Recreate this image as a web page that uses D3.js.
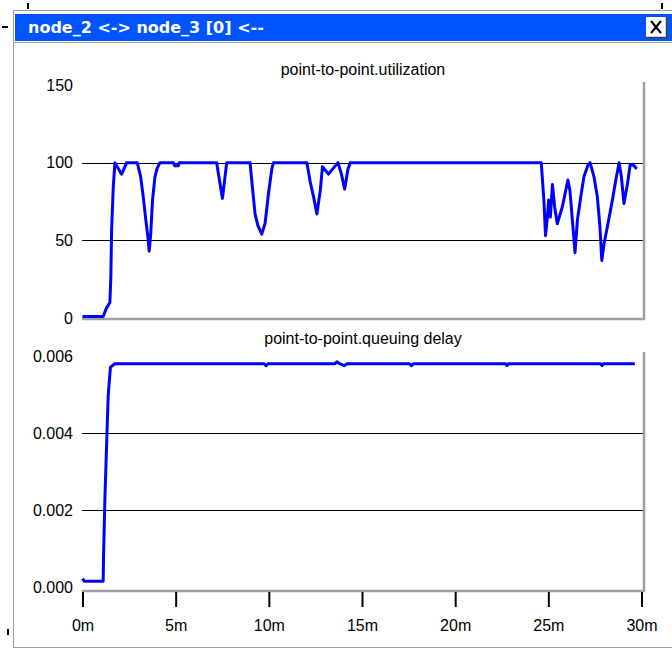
<!DOCTYPE html>
<html>
<head>
<meta charset="utf-8">
<script src="https://cdn.jsdelivr.net/npm/d3@7/dist/d3.min.js"></script>
<style>
  body { margin: 0; background: #fff; }
  svg text { font-family: "Liberation Sans", Arial, sans-serif; }
</style>
</head>
<body>
<svg id="chart" width="672" height="649"></svg>
<script>
// values, time in minutes
const utilTime = [0, 1.11, 1.29, 1.47, 1.52, 1.56, 1.65, 1.74, 2.10, 2.37, 2.94, 3.12, 3.26, 3.40, 3.53, 3.58, 3.66, 3.76, 3.89, 4.01, 4.16,
  4.87, 4.95, 5.15, 5.19, 7.20, 7.38, 7.51, 7.61, 7.74, 8.99, 9.12, 9.26, 9.41, 9.62, 9.80, 9.98, 10.16, 10.25,
  12.04, 12.22, 12.40, 12.58, 12.76, 12.88, 13.20, 13.71, 13.89, 14.07, 14.25, 14.37,
  24.62, 24.76, 24.85, 24.95, 25.02, 25.11, 25.22, 25.34, 25.48, 25.75, 26.05, 26.16, 26.29, 26.38, 26.43, 26.56, 26.74, 26.91, 27.13, 27.24,
  27.45, 27.63, 27.77, 27.87, 27.99, 28.20, 28.44, 28.62, 28.80, 28.92, 29.06, 29.25, 29.39, 29.52, 29.75];
const utilValue = [1, 1, 6.5, 10, 26, 56, 84, 100, 92.6, 100, 100, 91, 78, 63, 50, 43, 54, 76, 91, 96.5, 100,
  100, 98, 98, 100, 100, 86.6, 77, 87, 100, 100, 84, 67, 59.6, 54, 61, 80, 96, 100,
  100, 87.7, 78, 67, 82, 97.4, 92.6, 100, 93, 83, 96, 100,
  100, 76, 53, 65, 76, 65, 86, 71.5, 60.7, 71.5, 88.8, 82, 63, 50, 42, 63, 78, 91, 98.5, 100,
  91, 78, 58.6, 37, 47.8, 60.7, 76, 88.8, 100, 91, 73.7, 86.6, 98.5, 99, 96];

const delayTime = [0, 0.1, 1.11, 1.13, 1.20, 1.29, 1.38, 1.50, 1.74, 9.75, 9.85, 9.95, 13.55, 13.65, 13.80, 14.05, 14.20,
  17.55, 17.65, 17.75, 22.70, 22.78, 22.86, 27.80, 27.88, 27.96, 29.64];
const delayValue = [0.00022, 0.00015, 0.00015, 0.00082, 0.00225, 0.00364, 0.00498, 0.00571, 0.0058, 0.0058, 0.00575, 0.0058,
  0.0058, 0.00585, 0.0058, 0.00575, 0.0058, 0.0058, 0.00575, 0.0058, 0.0058, 0.00575, 0.0058, 0.0058, 0.00575, 0.0058, 0.0058];

const xTicks = [0, 5, 10, 15, 20, 25, 30];
const xTickLabels = ["0m", "5m", "10m", "15m", "20m", "25m", "30m"];
const utilTicks = [0, 50, 100, 150];
const utilGrid = [50, 100];
const delayTicks = [0, 0.002, 0.004, 0.006];
const delayGrid = [0.002, 0.004];

const svg = d3.select('#chart');
const left = 82, right = 644;

// window frame + title bar
svg.append('rect').attr('x', 13.5).attr('y', 10.5).attr('width', 670).attr('height', 637)
  .attr('fill', '#fff').attr('stroke', '#a0a0a0');
svg.append('rect').attr('x', 15).attr('y', 14).attr('width', 657).attr('height', 27).attr('fill', '#0054ff');
svg.append('line').attr('x1', 14).attr('x2', 672).attr('y1', 42.5).attr('y2', 42.5).attr('stroke', '#a0a0a0');
svg.append('text').attr('x', 28).attr('y', 33).text('node_2 <-> node_3 [0] <--')
  .style('font-family', '"DejaVu Sans", sans-serif').style('font-weight', 'bold').style('font-size', '16px').attr('fill', '#fff');

// close button
const btn = svg.append('g');
btn.append('rect').attr('x', 646).attr('y', 17).attr('width', 20).attr('height', 20).attr('fill', '#fff');
btn.append('path').attr('d', 'M666.5,17V37.5H646').attr('fill', 'none').attr('stroke', '#404040').attr('stroke-width', 1.5);
btn.append('path').attr('d', 'M651,21L661,33M661,21L651,33').attr('stroke', '#000').attr('stroke-width', 2);

// little selection handles outside the window
[[28, 3, 28, 9], [662, 3, 662, 9], [2, 27, 8, 27], [8, 629, 8, 635]].forEach(h => {
  svg.append('line').attr('x1', h[0]).attr('y1', h[1]).attr('x2', h[2]).attr('y2', h[3])
    .attr('stroke', '#000').attr('stroke-width', 2);
});

const x = d3.scaleLinear().domain([0, 30]).range([82.5, 641.5]);

function drawPanel(top, bottom, y, ticks, grid, fmt, title, titleY, times, values) {
  const g = svg.append('g');

  // grid lines
  g.selectAll('.grid').data(grid).enter().append('line')
    .attr('x1', left).attr('x2', right - 1)
    .attr('y1', d => Math.round(y(d)) + 0.5).attr('y2', d => Math.round(y(d)) + 0.5)
    .attr('stroke', '#000').attr('stroke-width', 1.2);

  // frame shadow (right + bottom)
  g.append('path').attr('d', `M${right},${top}V${bottom}H${left}`)
    .attr('fill', 'none').attr('stroke', '#a0a0a0').attr('stroke-width', 2.5);

  const yAxis = d3.axisLeft(y).tickValues(ticks).tickSize(0).tickPadding(9).tickFormat(fmt);
  const ya = g.append('g').attr('transform', `translate(${left},0)`).call(yAxis);
  ya.select('.domain').remove();
  ya.selectAll('text').style('font-size', '16px').attr('fill', '#000')
    .style('font-family', '"Liberation Sans", Arial, sans-serif');

  g.append('text').attr('x', (left + right) / 2).attr('y', titleY).attr('text-anchor', 'middle')
    .style('font-size', '16px').text(title);

  const line = d3.line().x(d => x(d[0])).y(d => y(d[1]));
  g.append('path').datum(d3.zip(times, values)).attr('d', line)
    .attr('fill', 'none').attr('stroke', '#0000ff').attr('stroke-width', 3).attr('stroke-linejoin', 'round');
}

const yUtil = d3.scaleLinear().domain([0, 150]).range([318, 85]);
drawPanel(82, 319, yUtil, utilTicks, utilGrid, d3.format('d'), 'point-to-point.utilization', 75, utilTime, utilValue);

const yDelay = d3.scaleLinear().domain([0, 0.006]).range([587, 356]);
drawPanel(352, 591, yDelay, delayTicks, delayGrid, d3.format('.3f'), 'point-to-point.queuing delay', 344, delayTime, delayValue);

// time axis under the lower panel
const xAxis = d3.axisBottom(x).tickValues(xTicks).tickFormat((d, i) => xTickLabels[i]).tickSize(15).tickPadding(13);
const xa = svg.append('g').attr('transform', 'translate(0,592)').call(xAxis);
xa.select('.domain').remove();
xa.selectAll('.tick line').attr('stroke', '#000').attr('stroke-width', 2);
xa.selectAll('text').style('font-size', '16px').attr('fill', '#000')
  .style('font-family', '"Liberation Sans", Arial, sans-serif');
</script>
</body>
</html>
